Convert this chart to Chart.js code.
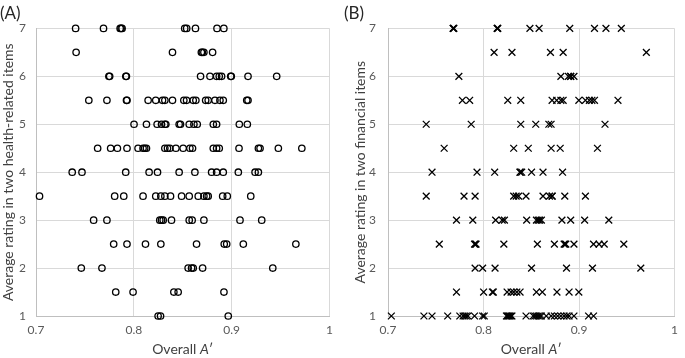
<!DOCTYPE html>
<html>
<head>
<meta charset="utf-8">
<script src="https://cdn.jsdelivr.net/npm/chart.js@4"></script>
<style>
  body { margin: 0; background: #fff; }
  .panel { position: absolute; top: 0; height: 358px; }
  #panelA { left: 0; width: 340px; }
  #panelB { left: 344px; width: 341px; }
</style>
</head>
<body>
<div class="panel" id="panelA"><canvas id="chartA"></canvas></div>
<div class="panel" id="panelB"><canvas id="chartB"></canvas></div>
<script>
// rating levels (y) and overall A' values (x), one row per level
const ratingLevels = [7, 6.5, 6, 5.5, 5, 4.5, 4, 3.5, 3, 2.5, 2, 1.5, 1];
const xTickValues = [0.7, 0.8, 0.9, 1];
const xTickLabels = ['0.7', '0.8', '0.9', '1'];
const yTickValues = [1, 2, 3, 4, 5, 6, 7];
const yTickLabels = ['1', '2', '3', '4', '5', '6', '7'];

// (A) health-related items
const health7 = [0.7405, 0.769, 0.786, 0.787, 0.788, 0.852, 0.854, 0.863, 0.885, 0.892];
const health65 = [0.741, 0.8395, 0.869, 0.870, 0.8716, 0.8805];
const health6 = [0.7745, 0.7753, 0.7918, 0.7924, 0.8682, 0.8778, 0.8846, 0.8873, 0.8897, 0.899, 0.8996, 0.9167, 0.946];
const health55 = [0.754, 0.7725, 0.7925, 0.793, 0.8146, 0.8224, 0.8293, 0.8317, 0.8395, 0.8511, 0.8539, 0.8607, 0.8634, 0.8734, 0.876, 0.8829, 0.888, 0.8914, 0.9154, 0.9167];
const health5 = [0.8002, 0.8129, 0.8238, 0.8283, 0.8317, 0.8327, 0.8463, 0.8477, 0.8566, 0.8614, 0.8648, 0.8812, 0.8846, 0.9078, 0.916];
const health45 = [0.763, 0.7763, 0.7832, 0.793, 0.8043, 0.8094, 0.8111, 0.8129, 0.8317, 0.8344, 0.8368, 0.843, 0.8504, 0.8573, 0.86, 0.8812, 0.8846, 0.8873, 0.9075, 0.9273, 0.929, 0.9477, 0.9717];
const health4 = [0.737, 0.747, 0.7917, 0.8156, 0.8242, 0.8463, 0.8624, 0.8795, 0.8846, 0.8914, 0.9068, 0.9239, 0.9273];
const health35 = [0.7036, 0.7804, 0.7897, 0.8094, 0.8224, 0.8276, 0.8317, 0.8375, 0.8488, 0.8566, 0.8658, 0.8716, 0.8744, 0.876, 0.8908, 0.8955, 0.9195];
const health3 = [0.7589, 0.7725, 0.8265, 0.8283, 0.830, 0.8385, 0.8566, 0.8596, 0.8716, 0.9085, 0.9307];
const health25 = [0.7794, 0.793, 0.8119, 0.8276, 0.8641, 0.8924, 0.8949, 0.9119, 0.9656];
const health2 = [0.7463, 0.7674, 0.8555, 0.859, 0.8607, 0.8703, 0.942];
const health15 = [0.7815, 0.7992, 0.8409, 0.8453, 0.8921];
const health1 = [0.8248, 0.8273, 0.8965];

// (B) financial items
const finance7 = [0.7683, 0.7683, 0.769, 0.8144, 0.8144, 0.815, 0.8486, 0.8582, 0.8903, 0.9162, 0.9282, 0.9443];
const finance65 = [0.8111, 0.8298, 0.8701, 0.8834, 0.9705];
const finance6 = [0.7742, 0.881, 0.8889, 0.8913, 0.8913, 0.8947];
const finance55 = [0.7779, 0.7855, 0.8254, 0.839, 0.8718, 0.8766, 0.881, 0.8834, 0.8998, 0.9067, 0.9108, 0.9135, 0.9162, 0.9408];
const finance5 = [0.740, 0.7871, 0.839, 0.8547, 0.8684, 0.8708, 0.9272];
const finance45 = [0.7588, 0.8316, 0.8469, 0.8708, 0.8803, 0.9193];
const finance4 = [0.7461, 0.7932, 0.8117, 0.8383, 0.8383, 0.840, 0.8503, 0.8623, 0.8828];
const finance35 = [0.740, 0.7796, 0.7912, 0.8316, 0.8342, 0.8367, 0.8445, 0.8623, 0.8691, 0.8718, 0.8718, 0.8851, 0.9067];
const finance3 = [0.7717, 0.7888, 0.8127, 0.8196, 0.8219, 0.8452, 0.8554, 0.8572, 0.8588, 0.8606, 0.8821, 0.8913, 0.9059, 0.9312];
const finance25 = [0.7537, 0.7906, 0.7915, 0.7922, 0.8213, 0.8564, 0.8742, 0.8844, 0.8853, 0.8862, 0.8947, 0.9152, 0.921, 0.9264, 0.9469];
const finance2 = [0.7912, 0.7991, 0.8121, 0.8503, 0.8869, 0.9141, 0.9647];
const finance15 = [0.7717, 0.8001, 0.8093, 0.8103, 0.8247, 0.8288, 0.8316, 0.8349, 0.8383, 0.8554, 0.8616, 0.8769, 0.8896, 0.8998];
const finance1 = [0.7035, 0.7376, 0.7461, 0.7625, 0.7752, 0.7786, 0.7803, 0.782, 0.7837, 0.7906, 0.7991, 0.8008, 0.824, 0.8248, 0.8257, 0.8266, 0.8275, 0.8288, 0.8298, 0.8445, 0.852, 0.8537, 0.8554, 0.8572, 0.8588, 0.8606, 0.8657, 0.8708, 0.8742, 0.8777, 0.881, 0.8844, 0.8872, 0.8896, 0.8947, 0.91, 0.9152];

const healthRows = [health7, health65, health6, health55, health5, health45, health4, health35, health3, health25, health2, health15, health1];
const financeRows = [finance7, finance65, finance6, finance55, finance5, finance45, finance4, finance35, finance3, finance25, finance2, finance15, finance1];

const toPoints = rows => rows.flatMap((row, i) => row.map(x => ({ x: x, y: ratingLevels[i] })));

const FONT = 'Lato, "Open Sans", sans-serif';
const TICK_COLOR = '#595959';

// x title with an italic A
const xTitlePlugin = {
  id: 'xTitle',
  afterDraw: chart => {
    const ctx = chart.ctx;
    const area = chart.chartArea;
    const parts = [
      { text: 'Overall ', font: '14px ' + FONT },
      { text: 'A', font: 'italic 14px ' + FONT },
      { text: '\u2032', font: '14px ' + FONT },
    ];
    ctx.save();
    let total = 0;
    parts.forEach(p => { ctx.font = p.font; p.w = ctx.measureText(p.text).width; total += p.w; });
    let x = (area.left + area.right) / 2 - total / 2;
    ctx.fillStyle = '#404040';
    ctx.textBaseline = 'middle';
    parts.forEach(p => { ctx.font = p.font; ctx.fillText(p.text, x, 349); x += p.w; });
    ctx.restore();
  }
};

const makeChart = (canvasId, panel, yTitle, rows, style, radius, yWidth, yTitlePad, tickPad) => {
  return new Chart(document.getElementById(canvasId), {
    type: 'scatter',
    data: {
      datasets: [{
        data: toPoints(rows),
        clip: false,
        pointStyle: style,
        pointRadius: radius,
        pointHoverRadius: radius,
        pointBorderWidth: 1.3,
        borderColor: '#000',
        backgroundColor: 'rgba(0,0,0,0)',
      }]
    },
    options: {
      responsive: true,
      maintainAspectRatio: false,
      animation: false,
      layout: { padding: { left: 0, right: 6, top: 0, bottom: 0 } },
      plugins: {
        legend: { display: false },
        tooltip: { enabled: false },
        title: {
          display: true,
          text: panel,
          align: 'start',
          color: '#262626',
          font: { family: FONT, size: 17, weight: 'normal' },
          padding: { top: 3, bottom: 5 },
        },
      },
      scales: {
        x: {
          type: 'linear',
          min: 0.7,
          max: 1,
          afterBuildTicks: s => { s.ticks = xTickValues.map(v => ({ value: v })); },
          afterFit: s => { s.height = 42; },
          ticks: {
            callback: (v, i) => xTickLabels[i],
            padding: 7,
            color: TICK_COLOR,
            font: { family: FONT, size: 12 },
            maxRotation: 0,
          },
          grid: { color: '#d9d9d9', drawTicks: false },
          border: { color: '#bfbfbf' },
        },
        y: {
          min: 1,
          max: 7,
          afterBuildTicks: s => { s.ticks = yTickValues.map(v => ({ value: v })); },
          afterFit: s => { s.width = yWidth; },
          ticks: {
            callback: (v, i) => yTickLabels[i],
            padding: tickPad,
            color: TICK_COLOR,
            font: { family: FONT, size: 12 },
          },
          grid: { color: '#d9d9d9', drawTicks: false },
          border: { color: '#bfbfbf' },
          title: {
            display: true,
            text: yTitle,
            color: '#404040',
            font: { family: FONT, size: 14 },
            padding: { top: yTitlePad, bottom: 0 },
          },
        },
      },
    },
    plugins: [xTitlePlugin],
  });
};

makeChart('chartA', '(A)', 'Average rating in two health-related items', healthRows, 'circle', 3.2, 36, 0, 10);
makeChart('chartB', '(B)', 'Average rating in two financial items', financeRows, 'crossRot', 4.8, 44, 7.6, 12);
</script>
</body>
</html>
